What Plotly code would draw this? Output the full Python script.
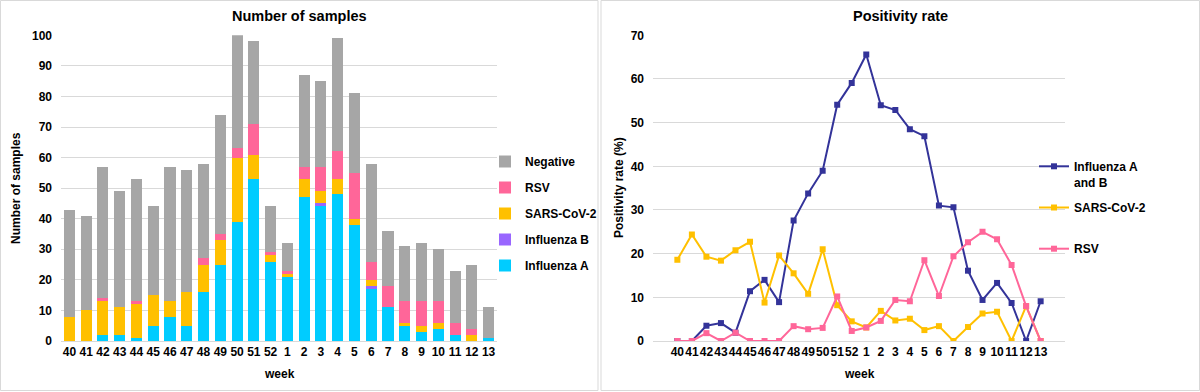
import plotly.graph_objects as go

weeks = ["40","41","42","43","44","45","46","47","48","49","50","51","52",
         "1","2","3","4","5","6","7","8","9","10","11","12","13"]

# Number of samples per week, by result
influenza_a = [0,0,2,2,1,5,8,5,16,25,39,53,26,21,47,44,48,38,17,11,5,3,4,2,0,1]
influenza_b = [0,0,0,0,0,0,0,0,0,0,0,0,0,0,0,1,0,0,1,0,0,0,0,0,0,0]
sars_cov2   = [8,10,11,9,11,10,5,11,9,8,21,8,2,1,6,4,5,2,2,0,1,2,2,0,2,0]
rsv         = [0,0,1,0,1,0,0,0,2,2,3,10,1,1,4,8,9,15,6,7,7,8,7,4,2,0]
negative    = [35,31,43,38,40,29,44,40,31,39,37,27,15,9,30,28,37,26,32,18,18,19,17,17,21,10]

# Positivity rate (%)
rate_flu  = [0,0,3.5,4.1,1.9,11.4,14.0,8.9,27.6,33.8,39.0,54.1,59.1,65.6,54.0,52.9,
             48.5,46.9,31.0,30.6,16.1,9.4,13.3,8.7,0,9.1]
rate_sars = [18.6,24.4,19.3,18.4,20.8,22.7,8.8,19.6,15.5,10.8,21.0,8.2,4.5,3.1,6.9,4.7,
             5.1,2.5,3.4,0,3.2,6.3,6.7,0,8.0,0]
rate_rsv  = [0,0,1.8,0,1.9,0,0,0,3.4,2.7,3.0,10.2,2.3,3.1,4.6,9.4,9.1,18.5,10.3,19.4,
             22.6,25.0,23.3,17.4,8.0,0]

FONT = "Liberation Sans, Arial, sans-serif"
W, H = 1200, 392
def px(x): return x / W
def py(y): return 1 - y / H

fig = go.Figure()

bar_series = [
    ("Influenza A", influenza_a, "#00ccff", 5),
    ("Influenza B", influenza_b, "#9966ff", 4),
    ("SARS-CoV-2", sars_cov2, "#ffc000", 3),
    ("RSV", rsv, "#ff6699", 2),
    ("Negative", negative, "#a6a6a6", 1),
]
for name, vals, col, rank in bar_series:
    fig.add_trace(go.Bar(x=weeks, y=vals, name=name, marker_color=col,
                         marker_line_width=0, xaxis="x", yaxis="y",
                         legend="legend", legendgroup=name, legendrank=rank))

line_series = [
    ("Influenza A<br>and B", rate_flu, "#333399"),
    ("SARS-CoV-2<br> ", rate_sars, "#ffc000"),
    ("RSV<br> ", rate_rsv, "#ff6699"),
]
for name, vals, col in line_series:
    fig.add_trace(go.Scatter(x=weeks, y=vals, name=name, mode="lines+markers",
                             line=dict(color=col, width=2),
                             marker=dict(symbol="square", size=6, color=col),
                             xaxis="x2", yaxis="y2", legend="legend2",
                             legendgroup="r" + name))

tickfont = dict(family=FONT, size=12, color="#000000", weight="bold")
ydom = [py(341), py(35.3)]

fig.update_layout(
    template="none",
    width=W, height=H, margin=dict(l=0, r=0, t=0, b=0, autoexpand=False),
    paper_bgcolor="white", plot_bgcolor="white",
    font=dict(family=FONT, color="#000000"),
    barmode="stack", bargap=0.34,
    showlegend=True,
    xaxis=dict(domain=[px(61), px(497)], type="category", tickfont=tickfont,
               showgrid=False, showline=True, linecolor="#d9d9d9", linewidth=1,
               ticks="", tickangle=0, anchor="y", automargin=False),
    yaxis=dict(domain=ydom, range=[0, 100], dtick=10, tickfont=tickfont,
               showgrid=True, gridcolor="#d9d9d9", gridwidth=1, zeroline=False,
               showline=False, ticks="", ticklabelstandoff=8, anchor="x",
               automargin=False),
    xaxis2=dict(domain=[px(653), px(1065)], type="category", tickfont=tickfont,
                showgrid=False, showline=True, linecolor="#d9d9d9", linewidth=1,
                ticks="", tickangle=0, anchor="y2", automargin=False),
    yaxis2=dict(domain=ydom, range=[0, 70], dtick=10, tickfont=tickfont,
                showgrid=True, gridcolor="#d9d9d9", gridwidth=1, zeroline=False,
                showline=False, ticks="", ticklabelstandoff=8, anchor="x2",
                automargin=False),
    legend=dict(x=px(485), y=py(147), xanchor="left", yanchor="top",
                traceorder="grouped", tracegroupgap=7,
                font=dict(family=FONT, size=12, weight="bold"),
                bgcolor="rgba(0,0,0,0)", borderwidth=0),
    legend2=dict(x=px(1034), y=py(152), xanchor="left", yanchor="top",
                 traceorder="grouped", tracegroupgap=7, valign="top",
                 font=dict(family=FONT, size=12, weight="bold"),
                 bgcolor="rgba(0,0,0,0)", borderwidth=0),
)

ann_font = dict(family=FONT, size=12, color="#000000", weight="bold")
title_font = dict(family=FONT, size=14.5, color="#000000", weight="bold")
annotations = [
    dict(text="Number of samples", x=px(299), y=py(16), font=title_font),
    dict(text="Positivity rate", x=px(900), y=py(16), font=title_font),
    dict(text="week", x=px(279), y=py(374), font=ann_font),
    dict(text="week", x=px(859), y=py(374), font=ann_font),
    dict(text="Number of samples", x=px(16), y=py(188), font=ann_font, textangle=-90),
    dict(text="Positivity rate (%)", x=px(619), y=py(188), font=ann_font, textangle=-90),
]
for a in annotations:
    fig.add_annotation(xref="paper", yref="paper", showarrow=False,
                       xanchor="center", yanchor="middle", **a)

for x0, x1 in [(0.5, 598), (601, 1199.5)]:
    fig.add_shape(type="rect", xref="paper", yref="paper",
                  x0=px(x0), x1=px(x1), y0=py(390.5), y1=py(0.5),
                  line=dict(color="#d9d9d9", width=1), layer="below")

fig.write_html("out.html", config={"displayModeBar": False},
               post_script="document.body.style.margin='0';document.body.style.padding='0';")
